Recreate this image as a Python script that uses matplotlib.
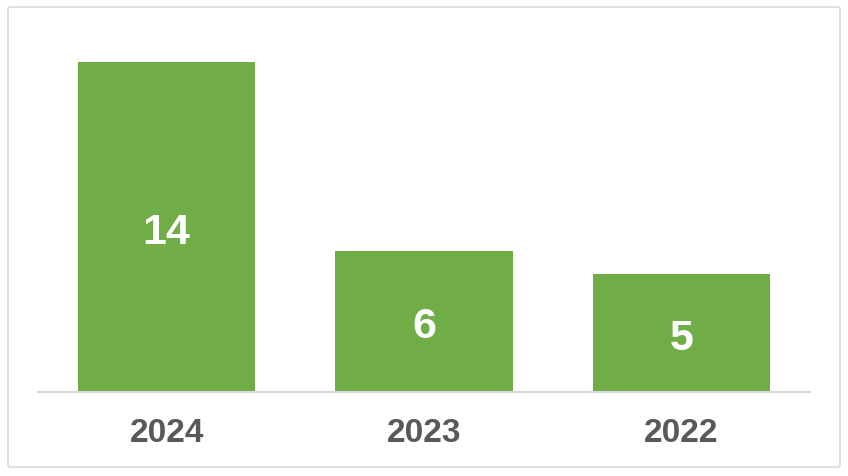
import matplotlib
matplotlib.use("Agg")
import matplotlib.pyplot as plt
from matplotlib.patches import FancyBboxPatch

categories = ["2024", "2023", "2022"]
values = [14, 6, 5]

W, H = 848, 477
fig = plt.figure(figsize=(W / 100, H / 100), dpi=100)
plt.rcParams['font.family'] = ['Liberation Sans', 'DejaVu Sans']

# outer border
border = FancyBboxPatch((8 / W, 9 / H), 832 / W, 460 / H,
                        boxstyle="round,pad=0,rounding_size=0.004",
                        transform=fig.transFigure, fill=False,
                        edgecolor="#D9D9D9", linewidth=1.2)
fig.patches.append(border)

ax = fig.add_axes([38 / W, 84 / H, 772 / W, (392 - 30) / H])
x = range(len(categories))
bars = ax.bar(x, values, width=0.69, color="#70AD47", zorder=2)
ax.set_xlim(-0.5, len(categories) - 0.5)
ax.set_ylim(0, 362 / (330 / 14))

for b, v in zip(bars, values):
    ax.text(b.get_x() + b.get_width() / 2, v / 2, str(v), ha="center", va="center_baseline",
            color="white", fontsize=31, fontweight="bold", zorder=3)

for s in ["top", "right", "left"]:
    ax.spines[s].set_visible(False)
ax.spines["bottom"].set_color("#D9D9D9")
ax.spines["bottom"].set_linewidth(1.5)
ax.set_yticks([])
ax.set_xticks(list(x))
ax.set_xticklabels(categories, fontsize=24, fontweight="bold", color="#595959")
ax.tick_params(axis="x", length=0, pad=18)

fig.savefig("out.png", dpi=100)
